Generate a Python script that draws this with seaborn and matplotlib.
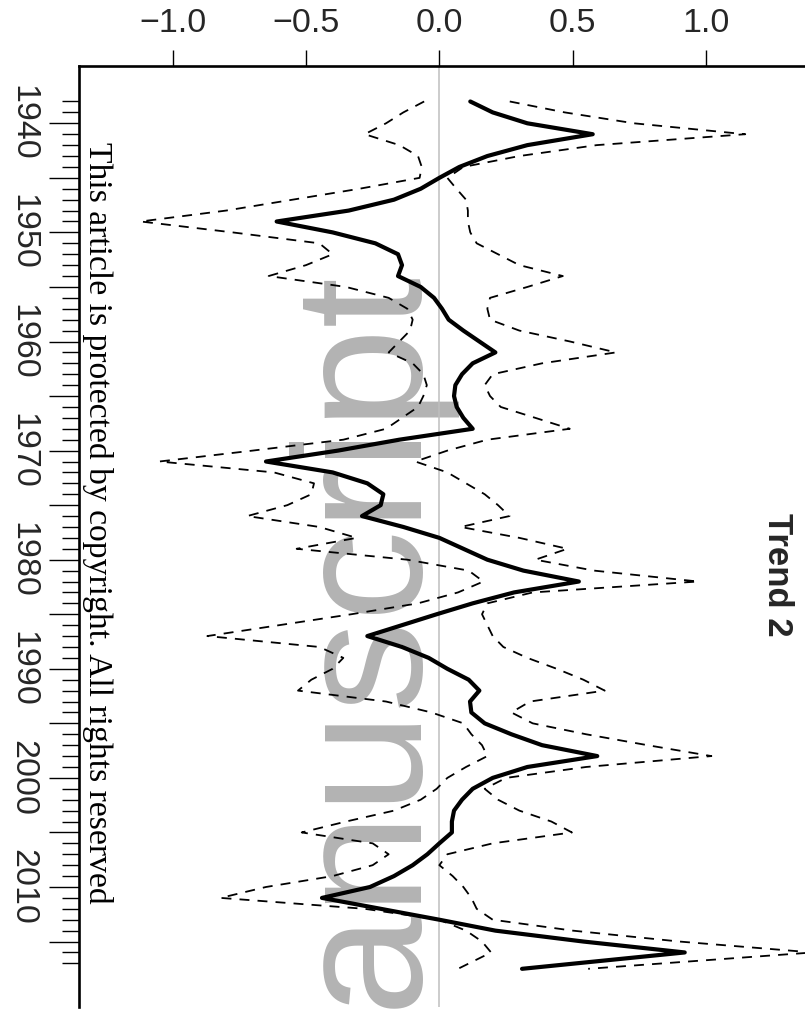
import numpy as np
import pandas as pd
import matplotlib
matplotlib.use("Agg")
import matplotlib.pyplot as plt
import seaborn as sns
from matplotlib.ticker import FixedLocator, FuncFormatter

# ---- data -------------------------------------------------------------
years = list(range(1938, 2017)) + [2017.5]

trend = [0.116, 0.20, 0.33, 0.575, 0.33, 0.18, 0.075, 0.0, -0.07, -0.17,
         -0.34, -0.61, -0.40, -0.24, -0.155, -0.14, -0.155, -0.07, -0.02, 0.01,
         0.035, 0.09, 0.15, 0.21, 0.125, 0.085, 0.06, 0.055, 0.065, 0.09,
         0.125, -0.15, -0.38, -0.65, -0.40, -0.27, -0.21, -0.22, -0.29, -0.135,
         0.0, 0.09, 0.18, 0.315, 0.523, 0.28, 0.125, -0.01, -0.14, -0.27,
         -0.14, -0.04, 0.03, 0.11, 0.15, 0.115, 0.12, 0.17, 0.27, 0.385,
         0.592, 0.33, 0.20, 0.125, 0.085, 0.055, 0.047, 0.047, 0.0, -0.045,
         -0.10, -0.17, -0.26, -0.44, -0.22, 0.0, 0.21, 0.54, 0.92, 0.31]

lower = [-0.057, -0.135, -0.20, -0.28, -0.15, -0.08, -0.066, -0.074, -0.30, -0.55,
         -0.80, -1.12, -0.775, -0.45, -0.40, -0.50, -0.64, -0.35, -0.19, -0.12,
         -0.10, -0.11, -0.15, -0.19, -0.10, -0.06, -0.047, -0.06, -0.08, -0.14,
         -0.20, -0.36, -0.70, -1.05, -0.62, -0.47, -0.48, -0.57, -0.72, -0.45,
         -0.31, -0.535, -0.12, 0.11, 0.165, 0.07, -0.08, -0.33, -0.60, -0.87,
         -0.45, -0.36, -0.40, -0.48, -0.53, -0.20, -0.03, 0.09, 0.12, 0.16,
         0.18, 0.10, 0.03, -0.01, -0.07, -0.17, -0.35, -0.516, -0.25, -0.19,
         -0.25, -0.40, -0.65, -0.82, -0.28, 0.0, 0.10, 0.16, 0.194, 0.07]

upper = [0.264, 0.47, 0.73, 1.147, 0.59, 0.30, 0.09, 0.03, 0.064, 0.10,
         0.107, 0.107, 0.116, 0.14, 0.22, 0.30, 0.463, 0.33, 0.19, 0.18,
         0.19, 0.30, 0.49, 0.662, 0.385, 0.20, 0.17, 0.19, 0.23, 0.36,
         0.489, 0.18, 0.03, -0.09, 0.03, 0.10, 0.17, 0.22, 0.263, 0.08,
         0.30, 0.48, 0.36, 0.58, 0.97, 0.35, 0.18, 0.16, 0.18, 0.20,
         0.24, 0.33, 0.44, 0.54, 0.62, 0.34, 0.27, 0.35, 0.55, 0.78,
         1.02, 0.55, 0.25, 0.17, 0.22, 0.30, 0.42, 0.497, 0.20, 0.03,
         0.0, 0.05, 0.09, 0.12, 0.14, 0.20, 0.50, 0.90, 1.40, 0.558]

value_ticks = [-1.0, -0.5, 0.0, 0.5, 1.0]
year_major = list(range(1940, 2016, 5))
year_minor = list(range(1938, 2018))
title = "Trend 2"
notice = "This article is protected by copyright. All rights reserved"
watermark = "Manuscript"

df = pd.DataFrame({"year": years, "trend": trend, "lower": lower, "upper": upper})

# ---- style ------------------------------------------------------------
sns.set_style("white")
plt.rcParams["font.family"] = ["Liberation Sans", "DejaVu Sans"]

W, H = 805, 1014
fig = plt.figure(figsize=(W / 100, H / 100), dpi=100)
left_px, top_px, bottom_px = 79.3, 65.7, 1007
ax = fig.add_axes([left_px / W, 1 - bottom_px / H, 1 - left_px / W,
                   (bottom_px - top_px) / H])

# watermark behind the curves
ax.text(407 / W, 1 - 262 / H, watermark, transform=fig.transFigure,
        rotation=90, rotation_mode="anchor", ha="right", va="baseline",
        fontsize=131, color="#b3b3b3", zorder=0.5, clip_on=False)

ax.axvline(0, color="#bebebe", lw=1.1, zorder=1)

for col in ["lower", "upper"]:
    sns.lineplot(data=df, x=col, y="year", orient="y", estimator=None,
                 color="black", lw=1.3, ls=(0, (5.5, 4.5)), ax=ax, zorder=2)
sns.lineplot(data=df, x="trend", y="year", orient="y", estimator=None,
             color="black", lw=3.0, ax=ax, zorder=3)

ax.set_xlim(-1.35, 1.371)
ax.set_ylim(2021.0, 1934.72)
ax.set_xlabel("")
ax.set_ylabel("")
ax.grid(False)

for side in ["right", "bottom"]:
    ax.spines[side].set_visible(False)
for side in ["left", "top"]:
    ax.spines[side].set_linewidth(1.9)
    ax.spines[side].set_color("black")

# value axis on top
ax.xaxis.tick_top()
ax.set_xticks(value_ticks)
ax.set_xticklabels([f"{v:.1f}".replace("-", "\u2212") for v in value_ticks])
ax.tick_params(axis="x", top=True, bottom=False, length=11.5, width=1.0,
               labelsize=24.5, pad=8, color="black")

# year axis on the left, rotated labels every decade
ax.yaxis.set_major_locator(FixedLocator(year_major))
ax.yaxis.set_minor_locator(FixedLocator(year_minor))
ax.yaxis.set_major_formatter(FuncFormatter(lambda v, p: f"{int(v)}" if int(v) % 10 == 0 else ""))
ax.tick_params(axis="y", which="major", left=True, length=21.6, width=1.0,
               labelsize=24.5, pad=8, labelrotation=-90, color="black")
ax.tick_params(axis="y", which="minor", left=True, length=11.9, width=1.0,
               color="black")
for t in ax.yaxis.get_major_ticks():
    t.label1.set_va("center")

# rotated notice and title
ax.text(89 / W, 1 - 142 / H, notice, transform=fig.transFigure,
        rotation=-90, rotation_mode="anchor", ha="left", va="baseline",
        fontsize=24.2, family=["Liberation Serif", "DejaVu Serif"],
        color="black", zorder=4, clip_on=False)
fig.text(777 / W, 1 - 575 / H, title, rotation=-90, ha="center", va="center",
         fontsize=25, fontweight="bold")

fig.savefig("out.png", dpi=100)
